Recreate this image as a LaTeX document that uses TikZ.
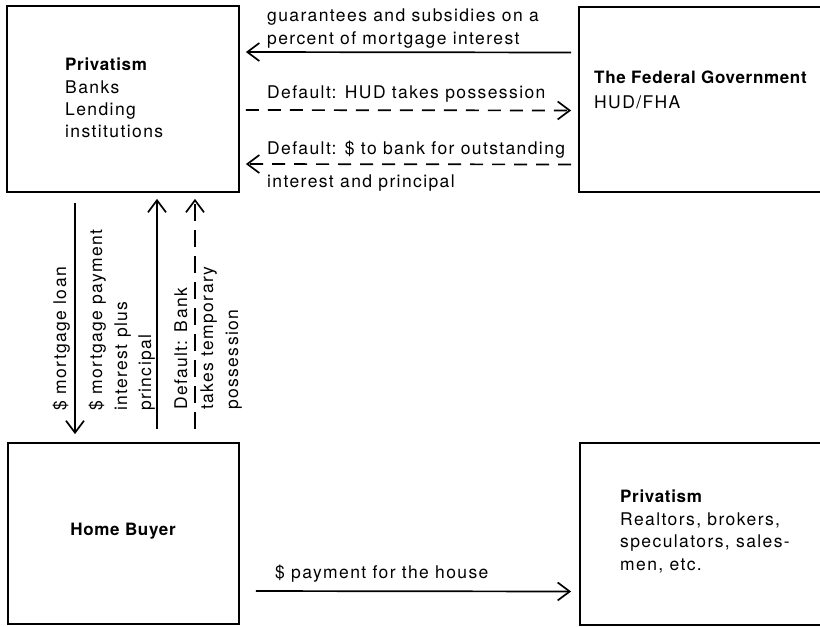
\documentclass[tikz,border=0pt]{standalone}
\usepackage{fontspec}
\setmainfont{TeX Gyre Heros}[LetterSpace=8,BoldFeatures={LetterSpace=4}]
\usetikzlibrary{arrows.meta}
\begin{document}
\begin{tikzpicture}[x=1pt,y=-1pt,
  box/.style={draw,line width=1.8pt,rectangle,inner sep=0pt},
  txt/.style={inner sep=0pt,anchor=base west,font=\fontsize{17.5}{22}\selectfont},
  btxt/.style={txt,font=\fontsize{17}{22}\selectfont\bfseries},
  vtxt/.style={txt,rotate=90},
  flow/.style={line width=1.7pt,-{Straight Barb[length=12pt,width=18pt,line width=1.7pt]}},
  hdash/.style={dash pattern=on 13pt off 9pt},
  vdash/.style={dash pattern=on 17pt off 9pt}]
\clip (0,0) rectangle (820,627);
% boxes
\node[box,minimum width=232pt,minimum height=186pt] (bank) at (123,99) {};
\node[box,minimum width=260pt,minimum height=185pt] (fed) at (709,99.5) {};
\node[box,minimum width=231pt,minimum height=181pt] (buyer) at (123.5,533.5) {};
\node[box,minimum width=260pt,minimum height=182pt] (real) at (710,534) {};
% box texts
\node[btxt] (b1) at (65,70) {Privatism};
\node[txt] (b2) at (65,93) {Banks};
\node[txt] (b3) at (65,115) {Lending};
\node[txt] (b4) at (65,137) {institutions};
\node[btxt] (f1) at (594,83) {The Federal Government};
\node[txt] (f2) at (594,108) {HUD/FHA};
\node[btxt,anchor=base] (h1) at (123,535) {Home Buyer};
\node[btxt] (r1) at (620,502) {Privatism};
\node[txt] (r2) at (620,525) {Realtors, brokers,};
\node[txt] (r3) at (620,547) {speculators, sales-};
\node[txt] (r4) at (620,570) {men, etc.};
% horizontal connectors
\draw[flow,shorten <=7pt,shorten >=6pt] ([yshift=47pt]fed.west) -- ([yshift=47pt]bank.east);
\draw[flow,hdash,shorten <=6pt,shorten >=7pt] ([yshift=-11pt]bank.east) -- ([yshift=-11pt]fed.west);
\draw[flow,hdash,shorten <=7pt,shorten >=6pt] ([yshift=-65pt]fed.west) -- ([yshift=-65pt]bank.east);
\draw[flow,shorten <=16pt,shorten >=8pt] ([yshift=-57.5pt]buyer.east) -- ([yshift=-57.5pt]real.west);
% vertical connectors
\draw[flow,shorten <=10pt,shorten >=8pt] ([xshift=-48pt]bank.south) -- ([xshift=-48pt]bank.south |- buyer.north);
\draw[flow,shorten <=13pt,shorten >=6pt] ([xshift=34pt]bank.south |- buyer.north) -- ([xshift=34pt]bank.south);
\draw[flow,vdash,shorten <=13pt,shorten >=6pt] ([xshift=72pt]bank.south |- buyer.north) -- ([xshift=72pt]bank.south);
% horizontal labels
\node[txt] (l1a) at (267,21) {guarantees and subsidies on a};
\node[txt] (l1b) at (267,44) {percent of mortgage interest};
\node[txt] (l2) at (267,98) {Default: HUD takes possession};
\node[txt] (l3a) at (267,154) {Default: \$ to bank for outstanding};
\node[txt] (l3b) at (267,187) {interest and principal};
\node[txt] (l4) at (275,578) {\$ payment for the house};
% vertical labels
\node[vtxt] (v1) at (66,411) {\$ mortgage loan};
\node[vtxt] (v2a) at (102,411) {\$ mortgage payment};
\node[vtxt] (v2b) at (127,411) {interest plus};
\node[vtxt] (v2c) at (151,411) {principal};
\node[vtxt] (v3a) at (187,410) {Default: Bank};
\node[vtxt] (v3b) at (213,410) {takes temporary};
\node[vtxt] (v3c) at (238,410) {possession};
\end{tikzpicture}
\end{document}
